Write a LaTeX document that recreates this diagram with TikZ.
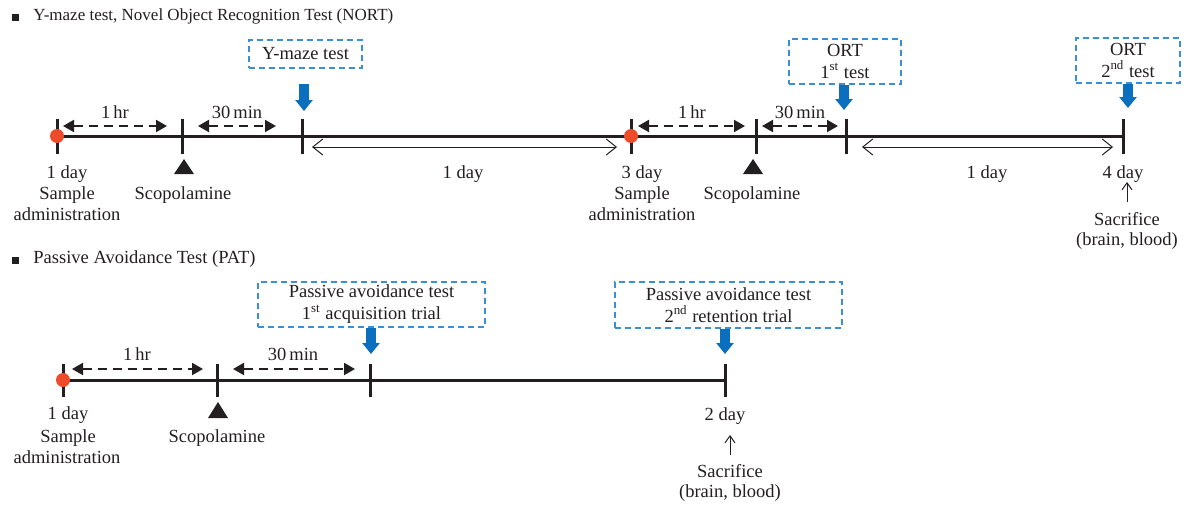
\documentclass[tikz,border=0pt]{standalone}
\usepackage{fontspec}
\setmainfont{Liberation Serif}
\usetikzlibrary{arrows.meta}
\definecolor{ink}{HTML}{231F20}
\definecolor{dotred}{HTML}{EE4B2B}
\definecolor{boxblue}{HTML}{3B8FD4}
\definecolor{arrblue}{HTML}{0A6FBF}
\begin{document}
\begin{tikzpicture}[x=0.5pt,y=-0.5pt,
  every node/.style={font=\fontsize{9.25}{11}\selectfont, text=ink, inner sep=0pt},
  lbl/.style={anchor=base},
  axis/.style={draw=ink, line width=1.5pt},
  tickmark/.style={draw=ink, line width=1.5pt},
  dasharrow/.style={draw=ink, line width=1pt, dash pattern=on 4.5pt off 3pt, {Triangle[length=5.5pt,width=6pt]}-{Triangle[length=5.5pt,width=6pt]}},
  dayarrow/.style={draw=ink, line width=0.5pt, {Straight Barb[length=5pt,width=8pt]}-{Straight Barb[length=5pt,width=8pt]}},
  uparrow/.style={draw=ink, line width=0.5pt, -{Straight Barb[length=3.5pt,width=5pt]}},
  testbox/.style={draw=boxblue, line width=0.75pt, dash pattern=on 3pt off 2pt, align=center, inner sep=0pt},
  bluearrow/.style={draw=arrblue, line width=4.8pt, -{Triangle[length=5.5pt,width=8.5pt]}},
  dot/.style={circle, fill=dotred, minimum size=7pt, inner sep=0pt},
  marker/.style={fill=ink},
  bullet/.style={fill=ink, minimum size=3.5pt, inner sep=0pt}
]
\useasboundingbox (0,0) rectangle (1184,504);

% ---------------- Row 1 ----------------
\node[bullet] (b1) at (15,17.5) {};
\node[anchor=base west, font=\fontsize{8.5}{10}\selectfont] (title1) at (33,20) {Y-maze test, Novel Object Recognition Test (NORT)};

\coordinate (t1) at (57,136);
\coordinate (t2) at (182,136);
\coordinate (t3) at (302,136);
\coordinate (t4) at (631,136);
\coordinate (t5) at (756,136);
\coordinate (t6) at (846,136);
\coordinate (t7) at (1123,136);

\draw[axis] (t1) -- (t7);
\foreach \t in {t1,t2,t3,t4,t5,t6,t7}{
  \draw[tickmark] ([yshift=-9pt]\t) -- ([yshift=8.5pt]\t);
}

% dashed interval arrows
\coordinate (d1a) at (63,126);  \coordinate (d1b) at (167,126);
\coordinate (d2a) at (198,126); \coordinate (d2b) at (276,126);
\coordinate (d3a) at (638,126); \coordinate (d3b) at (745,126);
\coordinate (d4a) at (762,126); \coordinate (d4b) at (838,126);
\draw[dasharrow] (d1a) -- (d1b);
\draw[dasharrow] (d2a) -- (d2b);
\draw[dasharrow] (d3a) -- (d3b);
\draw[dasharrow] (d4a) -- (d4b);
\node[lbl] (h1) at (115,118) {1\,hr};
\node[lbl] (m1) at (237,118) {30\,min};
\node[lbl] (h2) at (692,118) {1\,hr};
\node[lbl] (m2) at (800,118) {30\,min};

% day arrows
\coordinate (e1a) at (312,147); \coordinate (e1b) at (617,147);
\coordinate (e2a) at (862,147); \coordinate (e2b) at (1113,147);
\draw[dayarrow] (e1a) -- (e1b);
\draw[dayarrow] (e2a) -- (e2b);
\node[lbl] (day1) at (463,178) {1 day};
\node[lbl] (day2) at (987,178) {1 day};

% labels under ticks
\node[lbl] (l1a) at (67,178) {1 day};
\node[lbl] (l1b) at (67,199) {Sample};
\node[lbl] (l1c) at (67,220) {administration};
\node[lbl] (l4a) at (642,178) {3 day};
\node[lbl] (l4b) at (642,199) {Sample};
\node[lbl] (l4c) at (642,220) {administration};
\path[marker] (184,159) -- (194,174) -- (174,174) -- cycle;
\path[marker] (753,159) -- (763,174) -- (743,174) -- cycle;
\node[lbl] (s1) at (183,199) {Scopolamine};
\node[lbl] (s2) at (752,199) {Scopolamine};
\node[lbl] (l7a) at (1123,178) {4 day};
\node[lbl] (sac1) at (1127,225) {Sacrifice};
\node[lbl] (sac1b) at (1127,245) {(brain, blood)};
\coordinate (up1a) at (1127,202); \coordinate (up1b) at (1127,182);
\draw[uparrow] (up1a) -- (up1b);

% test boxes
\node[testbox, minimum width=56.5pt, minimum height=14pt] (ym) at (305.5,54) {Y-maze test};
\node[testbox, minimum width=56pt, minimum height=22.5pt] (o1) at (845,61.5) {ORT\\1\textsuperscript{st} test};
\node[testbox, minimum width=52pt, minimum height=22.5pt] (o2) at (1128,60.5) {ORT\\2\textsuperscript{nd} test};

\coordinate (ya) at (304,84); \coordinate (yb) at (304,111);
\draw[bluearrow] (ya) -- (yb);
\coordinate (o1b) at (844,110);
\draw[bluearrow] (o1.south -| o1b) -- (o1b);
\coordinate (o2b) at (1128,108);
\draw[bluearrow] (o2.south -| o2b) -- (o2b);

\node[dot] (r1) at (t1) {};
\node[dot] (r2) at (t4) {};

% ---------------- Row 2 ----------------
\node[bullet] (b2) at (15,260) {};
\node[anchor=base west] (title2) at (33,263) {Passive Avoidance Test (PAT)};

\coordinate (u1) at (63,380);
\coordinate (u2) at (217,380);
\coordinate (u3) at (370,380);
\coordinate (u4) at (725,380);
\draw[axis] (u1) -- (u4);
\foreach \t in {u1,u2,u3,u4}{
  \draw[tickmark] ([yshift=-8.5pt]\t) -- ([yshift=8pt]\t);
}
\coordinate (f1a) at (72,369);  \coordinate (f1b) at (203,369);
\coordinate (f2a) at (233,369); \coordinate (f2b) at (355,369);
\draw[dasharrow] (f1a) -- (f1b);
\draw[dasharrow] (f2a) -- (f2b);
\node[lbl] (h3) at (137,360) {1\,hr};
\node[lbl] (m3) at (293,360) {30\,min};

\node[lbl] (p1a) at (68,419) {1 day};
\node[lbl] (p1b) at (68,442) {Sample};
\node[lbl] (p1c) at (67,463) {administration};
\path[marker] (218,402) -- (228,418) -- (208,418) -- cycle;
\node[lbl] (s3) at (217,442) {Scopolamine};
\node[lbl] (p4a) at (725,420) {2 day};
\coordinate (up2a) at (730,455); \coordinate (up2b) at (730,435);
\draw[uparrow] (up2a) -- (up2b);
\node[lbl] (sac2) at (730,477) {Sacrifice};
\node[lbl] (sac2b) at (730,497) {(brain, blood)};

\node[testbox, minimum width=113.5pt, minimum height=22.5pt] (pa1) at (371.5,304.5) {Passive avoidance test\\1\textsuperscript{st} acquisition trial};
\node[testbox, minimum width=113.5pt, minimum height=23pt] (pa2) at (728.5,305) {Passive avoidance test\\2\textsuperscript{nd} retention trial};
\coordinate (pa1b) at (371,354);
\draw[bluearrow] (pa1.south -| pa1b) -- (pa1b);
\coordinate (pa2b) at (725,354);
\draw[bluearrow] (pa2.south -| pa2b) -- (pa2b);

\node[dot] (r3) at (u1) {};
\end{tikzpicture}
\end{document}
